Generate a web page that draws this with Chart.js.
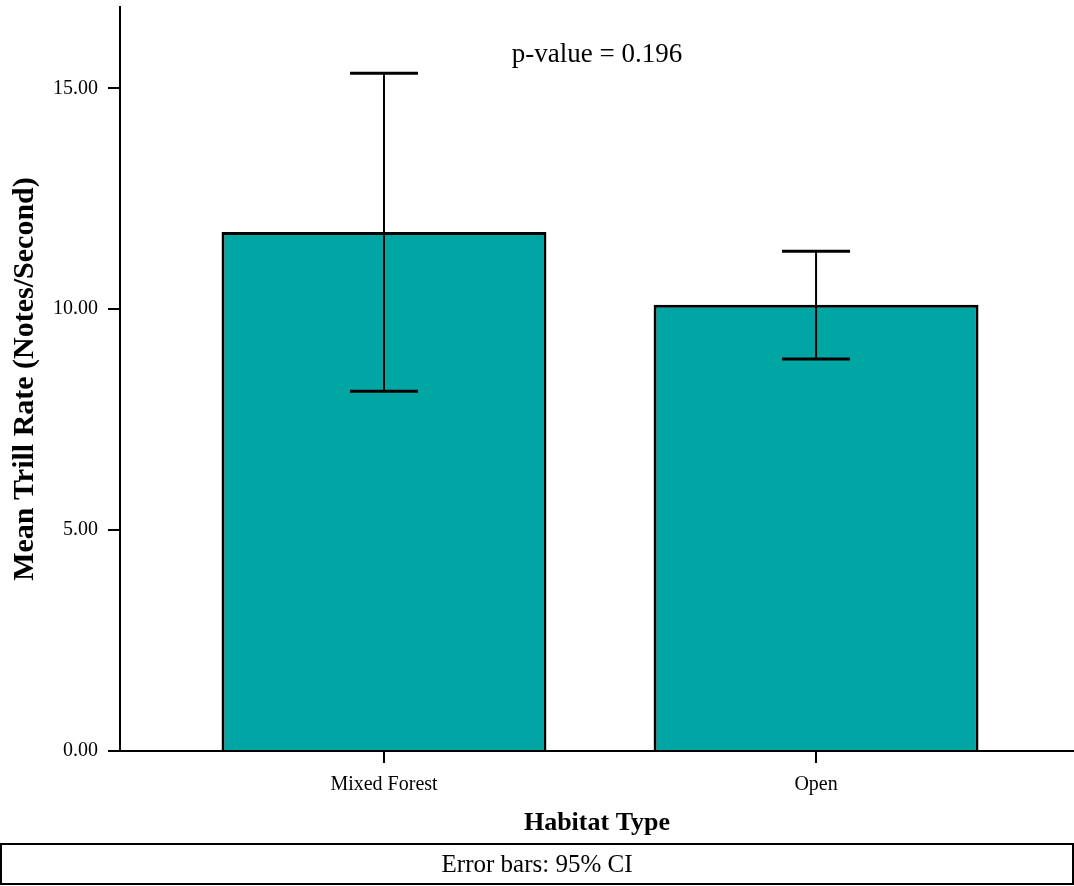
<!DOCTYPE html>
<html>
<head>
<meta charset="utf-8">
<script src="https://cdn.jsdelivr.net/npm/chart.js@4"></script>
<style>
  html, body { margin: 0; padding: 0; background: #fff; }
  #wrap { position: relative; width: 1074px; height: 886px; }
</style>
</head>
<body>
<div id="wrap"><canvas id="c" width="1074" height="886"></canvas></div>
<script>
// ---- data ----
const categories = ['Mixed Forest', 'Open'];
const means = [11.75, 10.10];
const ciLower = [8.14, 8.87];
const ciUpper = [15.34, 11.31];
const yTicks = [0, 5, 10, 15];
const pValueText = 'p-value = 0.196';
const footnoteText = 'Error bars: 95% CI';

const SERIF = '"Liberation Serif", "Times New Roman", serif';

const errorBarPlugin = {
  id: 'errorBars',
  afterDatasetsDraw(chart) {
    const ctx = chart.ctx;
    const xs = chart.scales.x, ys = chart.scales.y;
    ctx.save();
    ctx.strokeStyle = '#000';
    categories.forEach((c, i) => {
      const x = xs.getPixelForValue(i);
      const yt = ys.getPixelForValue(ciUpper[i]);
      const yb = ys.getPixelForValue(ciLower[i]);
      ctx.lineWidth = 2;
      ctx.beginPath();
      ctx.moveTo(x, yt); ctx.lineTo(x, yb);
      ctx.stroke();
      ctx.lineWidth = 3;
      ctx.beginPath();
      ctx.moveTo(x - 34, yt); ctx.lineTo(x + 34, yt);
      ctx.moveTo(x - 34, yb); ctx.lineTo(x + 34, yb);
      ctx.stroke();
    });
    ctx.restore();
  },
  afterDraw(chart) {
    const ctx = chart.ctx;
    const ca = chart.chartArea;
    ctx.save();
    ctx.fillStyle = '#000';
    ctx.font = '27px ' + SERIF;
    ctx.textAlign = 'center';
    ctx.textBaseline = 'alphabetic';
    ctx.fillText(pValueText, (ca.left + ca.right) / 2, 62);
    const W = chart.width;
    ctx.strokeStyle = '#000';
    ctx.lineWidth = 2;
    ctx.strokeRect(1, 844, W - 2, 40);
    ctx.font = '25px ' + SERIF;
    ctx.textBaseline = 'middle';
    ctx.fillText(footnoteText, W / 2, 865);
    ctx.restore();
  }
};

new Chart(document.getElementById('c'), {
  type: 'bar',
  data: {
    datasets: [{
      data: means.map((v, i) => ({ x: i, y: v })),
      backgroundColor: '#00a6a4',
      borderColor: '#000',
      borderWidth: 3,
      barPercentage: 0.752,
      categoryPercentage: 1
    }]
  },
  options: {
    responsive: false,
    animation: false,
    events: [],
    layout: { padding: { top: 7, bottom: 42, left: 0, right: 0 } },
    plugins: { legend: { display: false }, tooltip: { enabled: false } },
    scales: {
      x: {
        type: 'linear',
        offset: false,
        min: -0.611,
        max: 1.597,
        afterFit: s => { s.height = 93; s.paddingLeft = 0; s.paddingRight = 0; },
        afterBuildTicks: s => { s.ticks = categories.map((c, i) => ({ value: i })); },
        grid: { offset: false, drawOnChartArea: false, drawTicks: true, tickLength: 12, tickColor: '#000', tickWidth: 2, lineWidth: 2, color: '#000' },
        border: { display: true, color: '#000', width: 2 },
        ticks: {
          color: '#000',
          font: { family: SERIF, size: 20 },
          padding: 10,
          maxRotation: 0,
          callback: v => categories[v]
        },
        title: {
          display: true,
          text: 'Habitat Type',
          color: '#000',
          font: { family: SERIF, size: 26, weight: 'bold', lineHeight: 1 },
          padding: { top: 0, bottom: 8 }
        }
      },
      y: {
        min: 0,
        max: 16.84,
        afterFit: s => { s.width = 120; s.paddingTop = 0; s.paddingBottom = 0; },
        afterBuildTicks: s => { s.ticks = yTicks.map(v => ({ value: v })); },
        grid: { drawOnChartArea: false, drawTicks: true, tickLength: 12, tickColor: '#000', tickWidth: 2, lineWidth: 2, color: '#000' },
        border: { display: true, color: '#000', width: 2 },
        ticks: {
          color: '#000',
          font: { family: SERIF, size: 20 },
          padding: 10,
          callback: v => Number(v).toFixed(2)
        },
        title: {
          display: true,
          text: 'Mean Trill Rate (Notes/Second)',
          color: '#000',
          font: { family: SERIF, size: 30, weight: 'bold', lineHeight: 1 },
          padding: { top: 10, bottom: 0 }
        }
      }
    }
  },
  plugins: [errorBarPlugin]
});
</script>
</body>
</html>
